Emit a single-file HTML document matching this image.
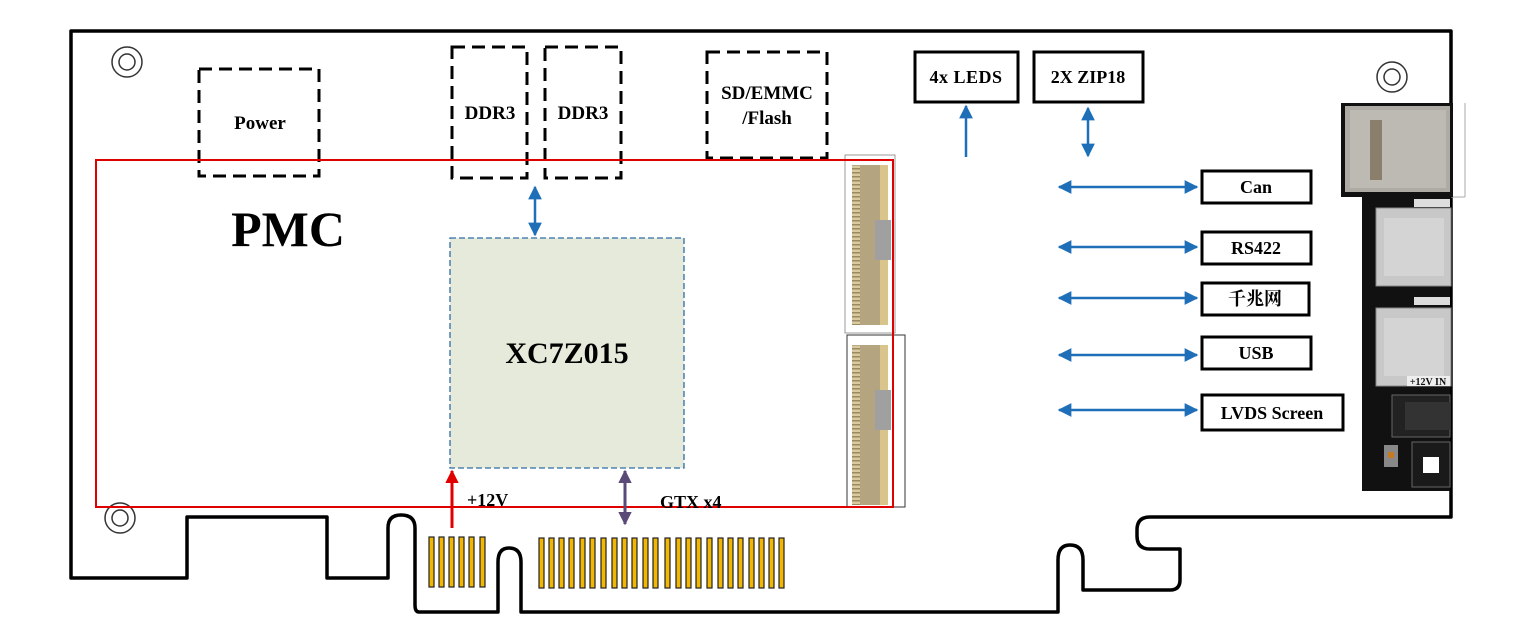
<!DOCTYPE html>
<html><head><meta charset="utf-8"><style>
html,body{margin:0;padding:0;background:#fff;}
svg{display:block;}
text{font-family:"Liberation Serif","Noto Serif CJK SC",serif;font-weight:bold;}
</style></head><body>
<svg width="1522" height="644" viewBox="0 0 1522 644" xmlns="http://www.w3.org/2000/svg">
<defs>
<marker id="bh" viewBox="0 0 10 10" refX="9" refY="5" markerWidth="5.5" markerHeight="5.5" orient="auto-start-reverse"><path d="M0,0 L10,5 L0,10 Z" fill="#1f6fb8"/></marker>
<marker id="rh" viewBox="0 0 10 10" refX="9" refY="5" markerWidth="4.5" markerHeight="4.5" orient="auto"><path d="M0,0 L10,5 L0,10 Z" fill="#e00000"/></marker>
<marker id="ph" viewBox="0 0 10 10" refX="9" refY="5" markerWidth="4.5" markerHeight="4.5" orient="auto-start-reverse"><path d="M0,0 L10,5 L0,10 Z" fill="#5a4a78"/></marker>
<pattern id="pins" width="4" height="4" patternUnits="userSpaceOnUse"><rect width="4" height="4" fill="#d8c9a0"/><rect y="0" width="4" height="1.5" fill="#9c8a62"/></pattern>
</defs>

<path d="M71,578 L71,31 L1451,31 L1451,517 L1150,517 Q1137,517 1137,530 L1137,536 Q1137,549 1150,549 L1180,549 L1180,580 Q1180,590 1170,590 L1083,590 L1083,560 Q1083,545 1070,545 Q1058,545 1058,560 L1058,612 L521,612 L521,562 Q521,548 509,548 Q498,548 498,562 L498,612 L419,612 Q415,612 415,605 L415,528 Q415,515 401,515 Q388,515 388,528 L388,578 L327,578 L327,517 L187,517 L187,578 Z" fill="none" stroke="#000" stroke-width="3.5" stroke-linejoin="round"/>

<g fill="none" stroke="#333" stroke-width="1.5">
<circle cx="127" cy="62" r="15"/><circle cx="127" cy="62" r="8"/>
<circle cx="120" cy="518" r="15"/><circle cx="120" cy="518" r="8"/>
<circle cx="1392" cy="77" r="15"/><circle cx="1392" cy="77" r="8"/>
</g>

<g fill="none" stroke="#000" stroke-width="3" stroke-dasharray="13,7">
<rect x="199" y="69" width="120" height="107"/>
<rect x="452" y="47" width="75" height="131"/>
<rect x="545" y="47" width="76" height="131"/>
<rect x="707" y="52" width="120" height="106"/>
</g>
<text x="260" y="129" font-size="19" text-anchor="middle">Power</text>
<text x="490" y="119" font-size="19" text-anchor="middle">DDR3</text>
<text x="583" y="119" font-size="19" text-anchor="middle">DDR3</text>
<text x="767" y="99" font-size="19" text-anchor="middle">SD/EMMC</text>
<text x="767" y="124" font-size="19" text-anchor="middle">/Flash</text>

<rect x="845" y="155" width="50" height="178" fill="none" stroke="#999" stroke-width="1"/>
<rect x="847" y="335" width="58" height="172" fill="none" stroke="#333" stroke-width="1"/>
<g>
<rect x="852" y="165" width="10" height="160" fill="url(#pins)"/>
<rect x="860" y="165" width="22" height="160" fill="#b4a580"/>
<rect x="880" y="165" width="8" height="160" fill="#d9c48c"/>
<rect x="875" y="220" width="16" height="40" fill="#a0a0a0"/>
<rect x="852" y="345" width="10" height="160" fill="url(#pins)"/>
<rect x="860" y="345" width="22" height="160" fill="#b4a580"/>
<rect x="880" y="345" width="8" height="160" fill="#d9c48c"/>
<rect x="875" y="390" width="16" height="40" fill="#a0a0a0"/>
</g>

<rect x="96" y="160" width="797" height="347" fill="none" stroke="#e00000" stroke-width="2"/>
<text x="288" y="246" font-size="50" text-anchor="middle">PMC</text>

<rect x="450" y="238" width="234" height="230" fill="#e5eada" stroke="#2e6da4" stroke-width="1.3" stroke-dasharray="6,3"/>
<text x="567" y="363" font-size="30" text-anchor="middle">XC7Z015</text>

<g stroke="#1f6fb8" stroke-width="2.5" fill="none">
<line x1="535" y1="187" x2="535" y2="235" marker-start="url(#bh)" marker-end="url(#bh)"/>
<line x1="966" y1="157" x2="966" y2="106" marker-end="url(#bh)"/>
<line x1="1088" y1="108" x2="1088" y2="156" marker-start="url(#bh)" marker-end="url(#bh)"/>
<line x1="1059" y1="187" x2="1197" y2="187" marker-start="url(#bh)" marker-end="url(#bh)"/>
<line x1="1059" y1="247" x2="1197" y2="247" marker-start="url(#bh)" marker-end="url(#bh)"/>
<line x1="1059" y1="298" x2="1197" y2="298" marker-start="url(#bh)" marker-end="url(#bh)"/>
<line x1="1059" y1="355" x2="1197" y2="355" marker-start="url(#bh)" marker-end="url(#bh)"/>
<line x1="1059" y1="410" x2="1197" y2="410" marker-start="url(#bh)" marker-end="url(#bh)"/>
</g>
<line x1="452" y1="528" x2="452" y2="471" stroke="#e00000" stroke-width="3" marker-end="url(#rh)"/>
<line x1="625" y1="471" x2="625" y2="524" stroke="#5a4a78" stroke-width="3" marker-start="url(#ph)" marker-end="url(#ph)"/>
<text x="467" y="506" font-size="18">+12V</text>
<text x="660" y="508" font-size="18">GTX x4</text>

<g fill="#f2b705" stroke="#222" stroke-width="1.2">
<rect x="429" y="537" width="5" height="50"/><rect x="439" y="537" width="5" height="50"/><rect x="449" y="537" width="5" height="50"/><rect x="459" y="537" width="5" height="50"/><rect x="469" y="537" width="5" height="50"/><rect x="480" y="537" width="5" height="50"/>
<rect x="539" y="538" width="5" height="50"/><rect x="549" y="538" width="5" height="50"/><rect x="559" y="538" width="5" height="50"/><rect x="569" y="538" width="5" height="50"/><rect x="580" y="538" width="5" height="50"/><rect x="590" y="538" width="5" height="50"/><rect x="601" y="538" width="5" height="50"/><rect x="612" y="538" width="5" height="50"/><rect x="622" y="538" width="5" height="50"/><rect x="632" y="538" width="5" height="50"/><rect x="643" y="538" width="5" height="50"/><rect x="653" y="538" width="5" height="50"/><rect x="665" y="538" width="5" height="50"/><rect x="676" y="538" width="5" height="50"/><rect x="686" y="538" width="5" height="50"/><rect x="696" y="538" width="5" height="50"/><rect x="707" y="538" width="5" height="50"/><rect x="718" y="538" width="5" height="50"/><rect x="728" y="538" width="5" height="50"/><rect x="738" y="538" width="5" height="50"/><rect x="749" y="538" width="5" height="50"/><rect x="759" y="538" width="5" height="50"/><rect x="769" y="538" width="5" height="50"/><rect x="779" y="538" width="5" height="50"/>
</g>

<g fill="#fff" stroke="#000" stroke-width="3">
<rect x="915" y="52" width="103" height="50"/>
<rect x="1034" y="52" width="109" height="50"/>
<rect x="1202" y="171" width="109" height="32"/>
<rect x="1202" y="232" width="109" height="32"/>
<rect x="1202" y="283" width="107" height="32"/>
<rect x="1202" y="337" width="109" height="32"/>
<rect x="1202" y="395" width="141" height="35"/>
</g>
<text x="966" y="83" font-size="18" text-anchor="middle" letter-spacing="0.5">4x  LEDS</text>
<text x="1088" y="83" font-size="18" text-anchor="middle">2X ZIP18</text>
<text x="1256" y="193" font-size="18" text-anchor="middle">Can</text>
<text x="1256" y="254" font-size="18" text-anchor="middle">RS422</text>
<text x="1255" y="305" font-size="18" text-anchor="middle">千兆网</text>
<text x="1256" y="359" font-size="18" text-anchor="middle">USB</text>
<text x="1272" y="419" font-size="18" text-anchor="middle">LVDS Screen</text>

<line x1="1465" y1="103" x2="1465" y2="197" stroke="#aaa" stroke-width="1"/>
<line x1="1451" y1="197" x2="1465" y2="197" stroke="#aaa" stroke-width="1"/>
<rect x="1362" y="185" width="88" height="306" fill="#111"/>
<rect x="1341" y="103" width="112" height="94" fill="#111"/>
<rect x="1345" y="106" width="105" height="86" fill="#aeaba5"/>
<rect x="1350" y="110" width="96" height="78" fill="#bdbab4"/>
<rect x="1370" y="120" width="12" height="60" fill="#8a7f6a"/>
<rect x="1376" y="208" width="75" height="78" fill="#c8c8c8" stroke="#888"/>
<rect x="1384" y="218" width="60" height="58" fill="#d4d4d4"/>
<rect x="1376" y="308" width="75" height="78" fill="#c8c8c8" stroke="#888"/>
<rect x="1384" y="318" width="60" height="58" fill="#d4d4d4"/>
<rect x="1414" y="199" width="36" height="8" fill="#ddd"/>
<rect x="1414" y="297" width="36" height="8" fill="#ddd"/>
<rect x="1407" y="376" width="43" height="10" fill="#eee"/>
<text x="1428" y="385" font-size="10" fill="#111" text-anchor="middle" font-family="Liberation Sans">+12V IN</text>
<rect x="1392" y="395" width="58" height="42" fill="#222" stroke="#666"/>
<rect x="1405" y="402" width="45" height="28" fill="#333"/>
<rect x="1412" y="442" width="38" height="45" fill="#1a1a1a" stroke="#666"/>
<rect x="1423" y="457" width="16" height="16" fill="#fff"/>
<rect x="1384" y="445" width="14" height="22" fill="#888"/>
<rect x="1388" y="452" width="6" height="6" fill="#c47a20"/>
</svg>
</body></html>
